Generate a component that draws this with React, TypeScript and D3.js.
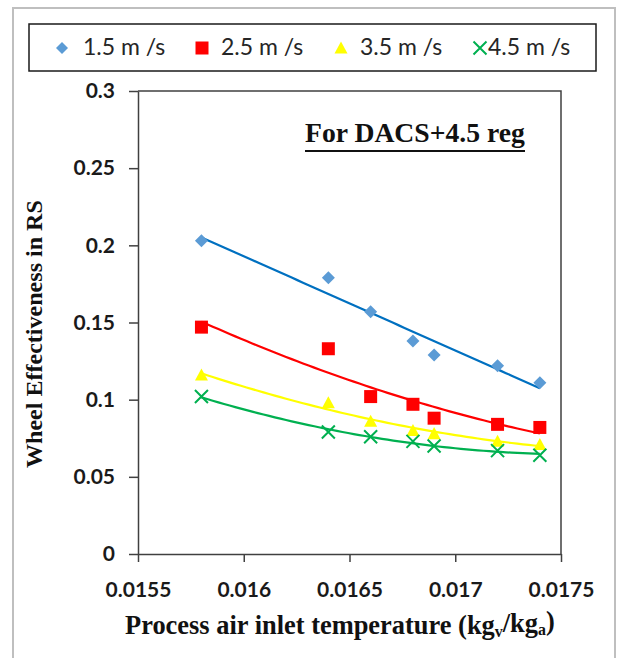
import React, { useEffect, useRef } from 'react';
import * as d3 from 'd3';

// humidity ratio of the process air (kg_v/kg_a)
const xValues = [0.0158, 0.0164, 0.0166, 0.0168, 0.0169, 0.0172, 0.0174];
// wheel effectiveness per air velocity
const speed15 = [0.203, 0.179, 0.157, 0.138, 0.129, 0.122, 0.111];
const speed25 = [0.147, 0.133, 0.102, 0.097, 0.088, 0.084, 0.082];
const speed35 = [0.116, 0.098, 0.086, 0.080, 0.078, 0.073, 0.071];
const speed45 = [0.102, 0.079, 0.076, 0.073, 0.070, 0.067, 0.064];
const seriesNames = ['1.5 m /s', '2.5 m /s', '3.5 m /s', '4.5 m /s'];

const xTicks = [0.0155, 0.016, 0.0165, 0.017, 0.0175];
const xTickLabels = ['0.0155', '0.016', '0.0165', '0.017', '0.0175'];
const yTicks = [0, 0.05, 0.1, 0.15, 0.2, 0.25, 0.3];
const yTickLabels = ['0', '0.05', '0.1', '0.15', '0.2', '0.25', '0.3'];

const SANS = 'Lato, "Noto Sans", sans-serif';
const SERIF = '"Liberation Serif", "Times New Roman", serif';

function linearFit(xs: number[], ys: number[]) {
  const mx = d3.mean(xs) as number;
  const my = d3.mean(ys) as number;
  const b = d3.sum(xs, (x, i) => (x - mx) * (ys[i] - my)) / d3.sum(xs, x => (x - mx) ** 2);
  const a = my - b * mx;
  return (x: number) => a + b * x;
}

// 2nd order polynomial least squares (centred x to keep it well conditioned)
function polyFit(xs: number[], ys: number[]) {
  const mx = d3.mean(xs) as number;
  const u = xs.map(x => (x - mx) * 1e4);
  const S = (p: number) => d3.sum(u, v => v ** p);
  const T = (p: number) => d3.sum(u, (v, i) => v ** p * ys[i]);
  const m = [[S(0), S(1), S(2)], [S(1), S(2), S(3)], [S(2), S(3), S(4)]];
  const r = [T(0), T(1), T(2)];
  const det = (a: number[][]) =>
    a[0][0] * (a[1][1] * a[2][2] - a[1][2] * a[2][1]) -
    a[0][1] * (a[1][0] * a[2][2] - a[1][2] * a[2][0]) +
    a[0][2] * (a[1][0] * a[2][1] - a[1][1] * a[2][0]);
  const D = det(m);
  const c = [0, 1, 2].map(k => det(m.map((row, i) => row.map((v, j) => (j === k ? r[i] : v)))) / D);
  return (x: number) => {
    const v = (x - mx) * 1e4;
    return c[0] + c[1] * v + c[2] * v * v;
  };
}

// marker outlines centred on (cx, cy)
function markerPath(kind: string, cx: number, cy: number, s: number) {
  const h = s / 2;
  if (kind === 'diamond') return `M${cx},${cy - h}L${cx + h},${cy}L${cx},${cy + h}L${cx - h},${cy}Z`;
  if (kind === 'square') return `M${cx - h},${cy - h}h${s}v${s}h${-s}Z`;
  if (kind === 'triangle') return `M${cx},${cy - h}L${cx + h},${cy + h * 0.85}L${cx - h},${cy + h * 0.85}Z`;
  return `M${cx - h},${cy - h}L${cx + h},${cy + h}M${cx + h},${cy - h}L${cx - h},${cy + h}`;
}

// scale a text's font size so its run is `target` px long
function fitWidth(text: d3.Selection<SVGTextElement, unknown, null, undefined>, base: number, target: number) {
  const len = (text.node() as SVGTextElement).getComputedTextLength();
  const size = base * target / len;
  text.style('font-size', `${size}px`);
  return size;
}

const series = [
  { name: seriesNames[0], values: speed15, marker: 'diamond', fill: '#5B9BD5', line: '#0070C0', fit: linearFit },
  { name: seriesNames[1], values: speed25, marker: 'square', fill: '#FF0000', line: '#FF0000', fit: polyFit },
  { name: seriesNames[2], values: speed35, marker: 'triangle', fill: '#FFFF00', line: '#FFFF00', fit: polyFit },
  { name: seriesNames[3], values: speed45, marker: 'cross', fill: '#00B050', line: '#00B050', fit: polyFit },
];

export default function App() {
  const ref = useRef<SVGSVGElement>(null);

  useEffect(() => {
    const totalWidth = 617;
    const totalHeight = 658;
    const plot = { left: 138, right: 561, top: 91, bottom: 554 };

    const svg = d3.select(ref.current);
    svg.selectAll('*').remove();
    svg.attr('width', totalWidth).attr('height', totalHeight);

    // outer chart frame
    svg.append('rect')
      .attr('x', 13).attr('y', 8)
      .attr('width', 602).attr('height', 670)
      .attr('fill', 'white')
      .attr('stroke', '#BFBFBF')
      .attr('stroke-width', 2);

    const xScale = d3.scaleLinear().domain([0.0155, 0.0175]).range([plot.left, plot.right]);
    const yScale = d3.scaleLinear().domain([0, 0.3]).range([plot.bottom, plot.top]);

    // plot area border (top and right)
    svg.append('path')
      .attr('d', `M${plot.left},${plot.top}H${plot.right}V${plot.bottom}`)
      .attr('fill', 'none')
      .attr('stroke', '#404040')
      .attr('stroke-width', 1.5);

    const xAxis = svg.append('g')
      .attr('transform', `translate(0,${plot.bottom})`)
      .call(d3.axisBottom(xScale)
        .tickValues(xTicks)
        .tickSize(8)
        .tickPadding(20)
        .tickSizeOuter(0)
        .tickFormat((d, i) => xTickLabels[i]));

    const yAxis = svg.append('g')
      .attr('transform', `translate(${plot.left},0)`)
      .call(d3.axisLeft(yScale)
        .tickValues(yTicks)
        .tickSize(9)
        .tickPadding(14)
        .tickSizeOuter(0)
        .tickFormat((d, i) => yTickLabels[i]));

    [xAxis, yAxis].forEach(ax => {
      ax.select('.domain').attr('stroke', '#404040').attr('stroke-width', 1.5);
      ax.selectAll('.tick line').attr('stroke', '#404040').attr('stroke-width', 1.5);
      ax.selectAll('.tick text')
        .style('font-family', SANS)
        .style('font-size', '21px')
        .style('font-weight', 'bold')
        .attr('fill', '#1a1a1a');
    });

    // trend lines, then markers on top
    const x0 = xValues[0];
    const x1 = xValues[xValues.length - 1];
    const samples = d3.range(0, 61).map(i => x0 + (x1 - x0) * i / 60);

    series.forEach(s => {
      const f = s.fit(xValues, s.values);
      svg.append('path')
        .datum(samples)
        .attr('fill', 'none')
        .attr('stroke', s.line)
        .attr('stroke-width', 2.2)
        .attr('d', d3.line<number>().x(d => xScale(d)).y(d => yScale(f(d))));
    });

    series.forEach(s => {
      svg.append('g').selectAll('path')
        .data(s.values)
        .join('path')
        .attr('d', (d, i) => markerPath(s.marker, xScale(xValues[i]), yScale(d), 13))
        .attr('fill', s.marker === 'cross' ? 'none' : s.fill)
        .attr('stroke', s.marker === 'cross' ? s.fill : 'none')
        .attr('stroke-width', 2);
    });

    // legend
    svg.append('rect')
      .attr('x', 29).attr('y', 24)
      .attr('width', 567).attr('height', 47)
      .attr('fill', 'white')
      .attr('stroke', '#1a1a1a')
      .attr('stroke-width', 1.5);

    const legendMarkerX = [62, 202, 341, 480];
    const legendTextX = [83, 221, 360, 488];
    series.forEach((s, i) => {
      const size = s.marker === 'diamond' ? 12 : 13;
      svg.append('path')
        .attr('d', markerPath(s.marker, legendMarkerX[i], 48, size))
        .attr('fill', s.marker === 'cross' ? 'none' : s.fill)
        .attr('stroke', s.marker === 'cross' ? s.fill : 'none')
        .attr('stroke-width', 2);
      svg.append('text')
        .attr('x', legendTextX[i])
        .attr('y', 55)
        .text(s.name)
        .style('font-family', SANS)
        .style('font-size', '23px')
        .attr('fill', '#262626');
    });

    // chart title with underline (runs from x=305 to 525)
    const title = svg.append('text')
      .attr('x', 305)
      .attr('y', 142)
      .text('For DACS+4.5 reg')
      .style('font-family', SERIF)
      .style('font-size', '24px')
      .style('font-weight', 'bold')
      .attr('fill', '#111');
    fitWidth(title, 24, 220);
    svg.append('line')
      .attr('x1', 305).attr('x2', 525)
      .attr('y1', 151).attr('y2', 151)
      .attr('stroke', '#111')
      .attr('stroke-width', 1.8);

    // y axis title, runs from y=468 up to y=200
    const yl = svg.append('text')
      .attr('transform', 'translate(42,468) rotate(-90)')
      .text('Wheel Effectiveness in RS')
      .style('font-family', SERIF)
      .style('font-size', '21px')
      .style('font-weight', 'bold')
      .attr('fill', '#111');
    fitWidth(yl, 21, 268);

    // x axis title, runs from x=125 to 555
    const xl = svg.append('text')
      .attr('x', 125)
      .attr('y', 634)
      .style('font-family', SERIF)
      .style('font-size', '26px')
      .style('font-weight', 'bold')
      .attr('fill', '#111');
    xl.append('tspan').text('Process air inlet temperature (kg');
    xl.append('tspan').text('v').attr('dy', '0.2em').style('font-size', '0.6em');
    xl.append('tspan').text('/kg').attr('dy', '-0.2em');
    xl.append('tspan').text('a').attr('dy', '0.2em').style('font-size', '0.6em');
    xl.append('tspan').text(')').attr('dy', '-0.2em');
    fitWidth(xl, 26, 430);
  }, []);

  return (
    <div style={{ position: 'absolute', left: 0, top: 0 }}>
      <svg ref={ref} />
    </div>
  );
}
